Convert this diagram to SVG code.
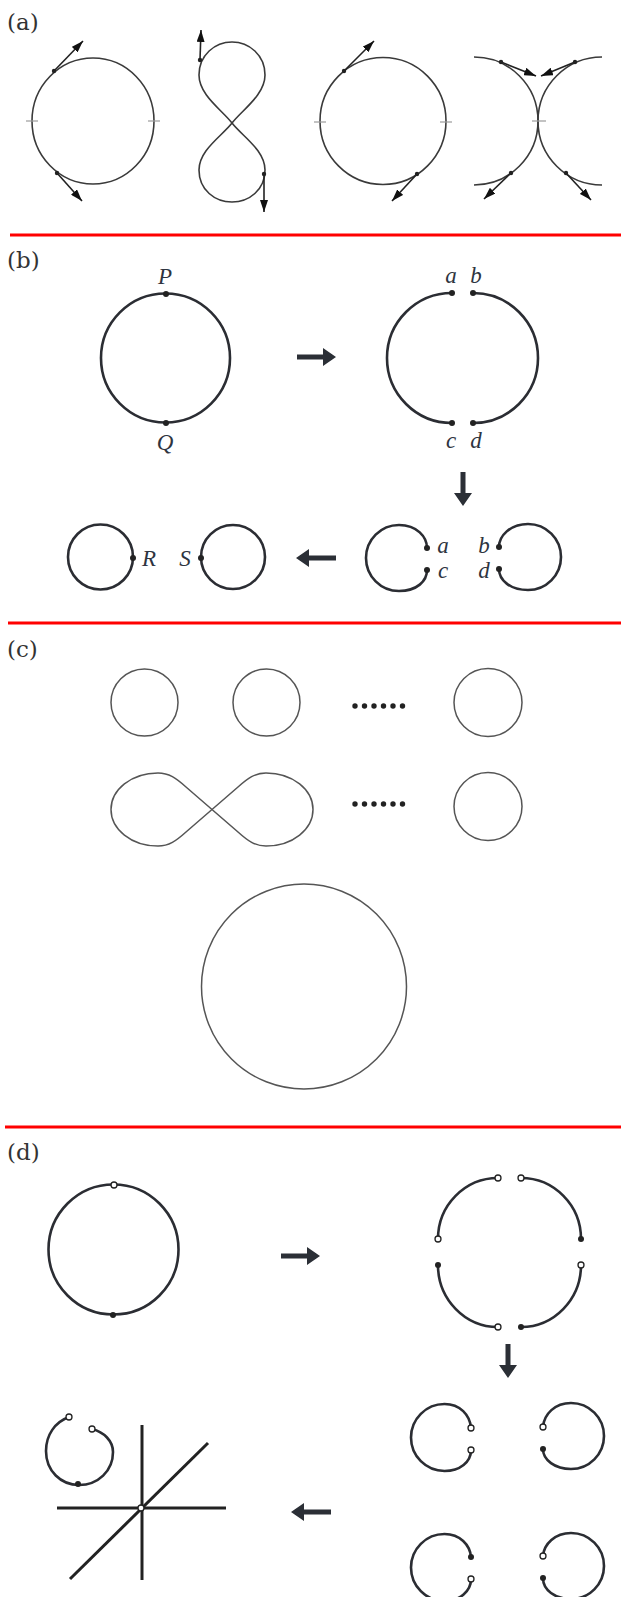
<svg xmlns="http://www.w3.org/2000/svg" width="621" height="1597" viewBox="0 0 621 1597">
<style>
.lbl{font-family:"DejaVu Serif","Liberation Serif",serif;font-size:23px;fill:#333}
.it{font-family:"Liberation Serif","DejaVu Serif",serif;font-style:italic;font-size:23px;fill:#2e3440}
.thin{fill:none;stroke:#3a3a3a;stroke-width:1.6}
.tick{stroke:#9a9a9a;stroke-width:1.2}
.arr{stroke:#222;stroke-width:1.6;marker-end:url(#ah)}
.thick{fill:none;stroke:#2b2d33;stroke-width:2.6}
.cc{fill:none;stroke:#555;stroke-width:1.5}
.fat{fill:#2b2f36}
.dot{fill:#222}
.odot{fill:#fff;stroke:#222;stroke-width:1.3}
.red{stroke:#f00;stroke-width:3}
.ax{stroke:#222;stroke-width:3}
</style>
<defs>
<marker id="ah" markerUnits="userSpaceOnUse" markerWidth="12" markerHeight="8" refX="12" refY="4" orient="auto"><path d="M0,0 L12,4 L0,8 z" fill="#111"/></marker>
</defs>
<rect width="621" height="1597" fill="#fff"/>

<g id="separators">
<line class="red" x1="10" y1="235" x2="621" y2="235"/>
<line class="red" x1="8" y1="623" x2="621" y2="623"/>
<line class="red" x1="5" y1="1127" x2="621" y2="1127"/>
</g>

<g id="labels">
<text class="lbl" x="7" y="30">(a)</text>
<text class="lbl" x="7" y="268">(b)</text>
<text class="lbl" x="7" y="657">(c)</text>
<text class="lbl" x="7" y="1160">(d)</text>
</g>

<!-- (a) -->
<g id="a-circle1">
<ellipse class="thin" cx="93" cy="121" rx="61" ry="63"/>
<line class="tick" x1="26" y1="121" x2="38" y2="121"/>
<line class="tick" x1="148" y1="121" x2="160" y2="121"/>
<circle class="dot" cx="54" cy="71" r="2.2"/>
<circle class="dot" cx="57" cy="173" r="2.2"/>
</g>
<g id="a-eight">
<path class="thin" d="M232,123 C222,110 199,95 199,75 C199,55 215,42 232,42 C249,42 265,55 265,75 C265,95 242,110 232,123 C222,136 199,150 199,170 C199,190 215,202 232,202 C249,202 265,190 265,170 C265,150 242,136 232,123 Z"/>
<circle class="dot" cx="200" cy="60" r="2.2"/>
<circle class="dot" cx="264" cy="174" r="2.2"/>
</g>
<g id="a-circle2">
<ellipse class="thin" cx="383" cy="121" rx="63" ry="63.5"/>
<line class="tick" x1="314" y1="122" x2="326" y2="122"/>
<line class="tick" x1="440" y1="122" x2="452" y2="122"/>
<circle class="dot" cx="344" cy="71" r="2.2"/>
<circle class="dot" cx="417" cy="174" r="2.2"/>
</g>
<g id="a-tangent">
<path class="thin" d="M474,57 A64,64 0 0 1 474,185"/>
<path class="thin" d="M602,57 A64,64 0 0 0 602,185"/>
<line class="tick" x1="532" y1="121" x2="546" y2="121"/>
<circle class="dot" cx="501" cy="62" r="2.2"/>
<circle class="dot" cx="575" cy="62" r="2.2"/>
<circle class="dot" cx="511" cy="173" r="2.2"/>
<circle class="dot" cx="566" cy="173" r="2.2"/>
</g>

<!-- (b) -->
<g id="b-PQ">
<circle class="thick" cx="165.5" cy="358" r="64.5"/>
<circle class="dot" cx="166" cy="294" r="3"/>
<circle class="dot" cx="166" cy="423" r="3"/>
<text class="it" x="165" y="284" text-anchor="middle">P</text>
<text class="it" x="165" y="450" text-anchor="middle">Q</text>
</g>
<g id="b-abcd">
<path class="thick" d="M452,293 A65,65 0 0 0 452,423"/>
<path class="thick" d="M473,293 A65,65 0 0 1 473,423"/>
<circle class="dot" cx="452" cy="293" r="3"/>
<circle class="dot" cx="473" cy="293" r="3"/>
<circle class="dot" cx="452" cy="423" r="3"/>
<circle class="dot" cx="473" cy="423" r="3"/>
<text class="it" x="451" y="283" text-anchor="middle">a</text>
<text class="it" x="476" y="283" text-anchor="middle">b</text>
<text class="it" x="451" y="448" text-anchor="middle">c</text>
<text class="it" x="476" y="448" text-anchor="middle">d</text>
</g>
<g id="b-split">
<path class="thick" d="M427,548 C427,537 417,525 399,525 A33,33 0 0 0 399,591 C417,591 427,581 427,570"/>
<path class="thick" d="M499,547 C499,536 510,524 528,524 A33,33 0 0 1 528,590 C510,590 499,580 499,569"/>
<circle class="dot" cx="427" cy="548" r="3"/>
<circle class="dot" cx="427" cy="570" r="3"/>
<circle class="dot" cx="499" cy="547" r="3"/>
<circle class="dot" cx="499" cy="569" r="3"/>
<text class="it" x="443" y="553" text-anchor="middle">a</text>
<text class="it" x="443" y="578" text-anchor="middle">c</text>
<text class="it" x="484" y="553" text-anchor="middle">b</text>
<text class="it" x="484" y="578" text-anchor="middle">d</text>
</g>
<g id="b-RS">
<circle class="thick" cx="100.5" cy="557" r="32.5"/>
<circle class="thick" cx="233" cy="557" r="32"/>
<circle class="dot" cx="133" cy="558" r="3"/>
<circle class="dot" cx="201" cy="558" r="3"/>
<text class="it" x="149" y="566" text-anchor="middle">R</text>
<text class="it" x="185" y="566" text-anchor="middle">S</text>
</g>

<!-- (c) -->
<g id="c-row1">
<circle class="cc" cx="144.5" cy="702.5" r="33.5"/>
<circle class="cc" cx="266.5" cy="702.5" r="33.5"/>
<circle class="cc" cx="488" cy="702.5" r="34"/>
<g class="dot"><circle cx="355" cy="706" r="2.7"/><circle cx="364.5" cy="706" r="2.7"/><circle cx="374" cy="706" r="2.7"/><circle cx="383.5" cy="706" r="2.7"/><circle cx="393" cy="706" r="2.7"/><circle cx="402.5" cy="706" r="2.7"/></g>
</g>
<g id="c-row2">
<path class="cc" d="M212,809.5 L238,787 C248,778 255,773 266,773 C293,773 313,790 313,809.5 C313,829 293,846 266,846 C255,846 248,841 238,832 L186,787 C176,778 169,773 158,773 C131,773 111,790 111,809.5 C111,829 131,846 158,846 C169,846 176,841 186,832 Z"/>
<circle class="cc" cx="488" cy="806.5" r="34"/>
<g class="dot"><circle cx="355" cy="804" r="2.7"/><circle cx="364.5" cy="804" r="2.7"/><circle cx="374" cy="804" r="2.7"/><circle cx="383.5" cy="804" r="2.7"/><circle cx="393" cy="804" r="2.7"/><circle cx="402.5" cy="804" r="2.7"/></g>
</g>
<g id="c-big">
<circle class="cc" cx="304" cy="986.5" r="102.5"/>
</g>

<!-- (d) -->
<g id="d-circle">
<circle class="thick" cx="113.5" cy="1249.5" r="65"/>
<circle class="odot" cx="114" cy="1185" r="3"/>
<circle class="dot" cx="113" cy="1315" r="3"/>
</g>
<g id="d-quarters">
<path class="thick" d="M438,1239 A60,61 0 0 1 498,1178"/>
<path class="thick" d="M521,1178 A60,61 0 0 1 581,1239"/>
<path class="thick" d="M438,1265 A60,62 0 0 0 498,1327"/>
<path class="thick" d="M521,1327 A60,62 0 0 0 581,1265"/>
<circle class="odot" cx="438" cy="1239" r="3"/>
<circle class="odot" cx="498" cy="1178" r="3"/>
<circle class="odot" cx="521" cy="1178" r="3"/>
<circle class="dot" cx="581" cy="1239" r="3"/>
<circle class="dot" cx="438" cy="1265" r="3"/>
<circle class="odot" cx="498" cy="1327" r="3"/>
<circle class="dot" cx="521" cy="1327" r="3"/>
<circle class="odot" cx="581" cy="1265" r="3"/>
</g>
<g id="d-four">
<path class="thick" d="M471,1428 C470,1415 460,1404 444.5,1404 A33.5,33.5 0 0 0 444.5,1471 C460,1471 471,1462 471,1450"/>
<path class="thick" d="M543,1427 C544,1414 555,1403 571,1403 A33,33 0 0 1 571,1469 C555,1469 543,1460 543,1449"/>
<path class="thick" d="M471,1557 C470,1545 460,1534 444.5,1534 A33.5,33.5 0 0 0 444.5,1601 C460,1601 471,1591 471,1579"/>
<path class="thick" d="M543,1556 C544,1544 555,1533 571,1533 A33,33 0 0 1 571,1599 C555,1599 543,1590 543,1578"/>
<circle class="odot" cx="471" cy="1428" r="3"/>
<circle class="odot" cx="471" cy="1450" r="3"/>
<circle class="odot" cx="543" cy="1427" r="3"/>
<circle class="dot" cx="543" cy="1449" r="3"/>
<circle class="dot" cx="471" cy="1557" r="3"/>
<circle class="odot" cx="471" cy="1579" r="3"/>
<circle class="odot" cx="543" cy="1556" r="3"/>
<circle class="dot" cx="543" cy="1578" r="3"/>
</g>
<g id="d-axes">
<line class="ax" x1="142" y1="1425" x2="142" y2="1580"/>
<line class="ax" x1="57" y1="1508" x2="226" y2="1508"/>
<line class="ax" x1="70" y1="1579" x2="208" y2="1443"/>
<circle class="odot" cx="141" cy="1508" r="3"/>
<path class="thick" d="M69,1417 C55,1422 46,1435 46,1451 C46,1471 61,1485 79,1485 C98,1485 113,1471 113,1452 C113,1441 104,1432 92,1429"/>
<circle class="odot" cx="69" cy="1417" r="3"/>
<circle class="odot" cx="92" cy="1429" r="3"/>
<circle class="dot" cx="78" cy="1484" r="3"/>
</g>

<g id="connectors">
<line class="arr" x1="54" y1="71" x2="83" y2="41"/>
<line class="arr" x1="57" y1="173" x2="82" y2="201"/>
<line class="arr" x1="200" y1="60" x2="201" y2="30"/>
<line class="arr" x1="264" y1="174" x2="264" y2="212"/>
<line class="arr" x1="344" y1="71" x2="374" y2="41"/>
<line class="arr" x1="417" y1="174" x2="392" y2="201"/>
<line class="arr" x1="501" y1="62" x2="536" y2="76"/>
<line class="arr" x1="575" y1="62" x2="541" y2="76"/>
<line class="arr" x1="511" y1="173" x2="484" y2="199"/>
<line class="arr" x1="566" y1="173" x2="591" y2="200"/>
<path class="fat" d="M297,354.5 H323 V348 L336,357 L323,366 V359.5 H297 Z"/>
<path class="fat" d="M460.5,472 V493 H454 L463,506 L472,493 H465.5 V472 Z"/>
<path class="fat" d="M336,555.5 H309 V549 L296,558 L309,567 V560.5 H336 Z"/>
<path class="fat" d="M281,1253.5 H307 V1247 L320,1256 L307,1265 V1258.5 H281 Z"/>
<path class="fat" d="M505.5,1344 V1365 H499 L508,1378 L517,1365 H510.5 V1344 Z"/>
<path class="fat" d="M331,1509.5 H304 V1503 L291,1512 L304,1521 V1514.5 H331 Z"/>
</g>
</svg>
